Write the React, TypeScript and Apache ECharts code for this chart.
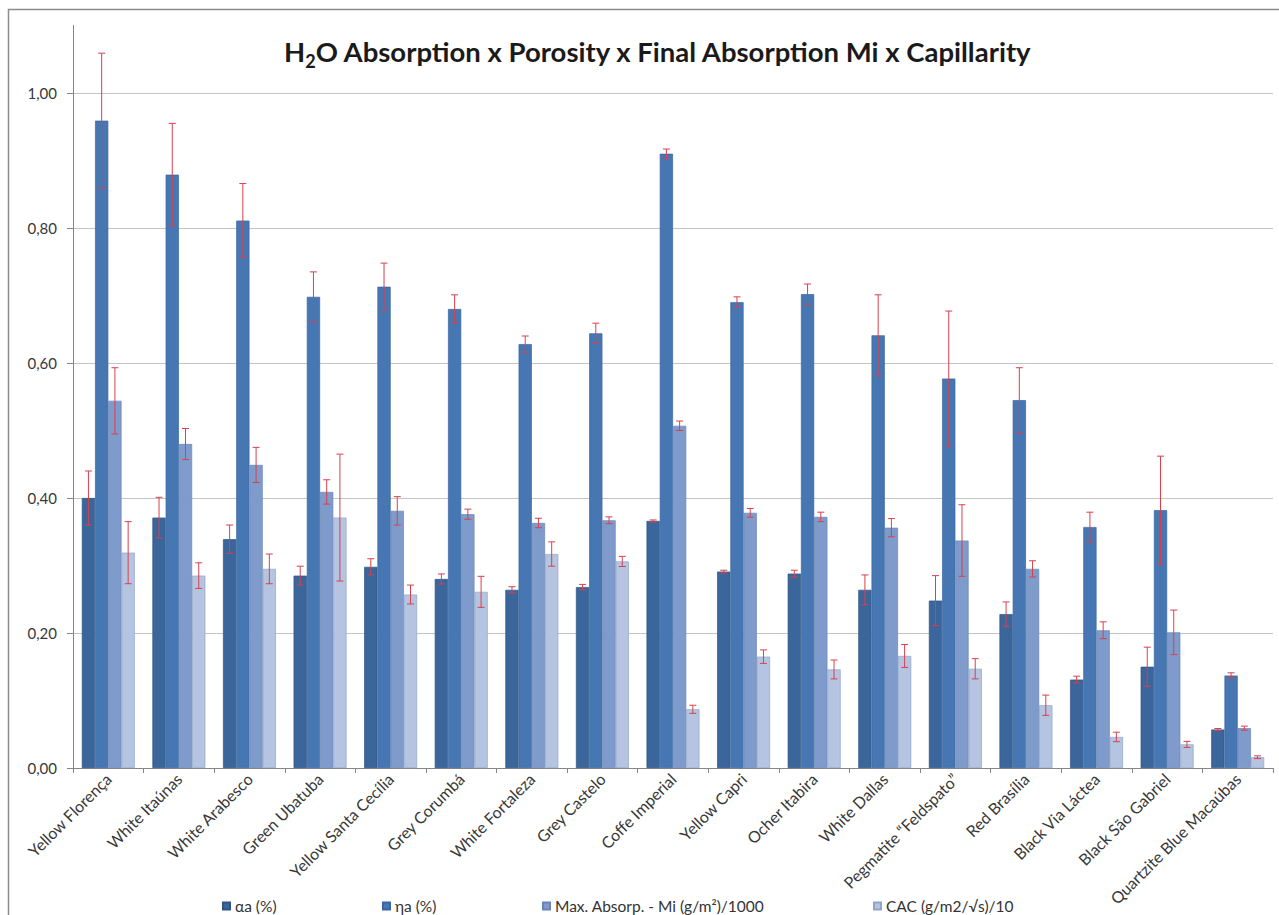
import React, { useEffect, useRef } from "react";
import * as echarts from "echarts";

const categories = [
  "Yellow Florença",
  "White Itaúnas",
  "White Arabesco",
  "Green Ubatuba",
  "Yellow Santa Cecília",
  "Grey Corumbá",
  "White Fortaleza",
  "Grey Castelo",
  "Coffe Imperial",
  "Yellow Capri",
  "Ocher Itabira",
  "White Dallas",
  "Pegmatite \u201cFeldspato\u201d",
  "Red Brasília",
  "Black Via Láctea",
  "Black São Gabriel",
  "Quartzite Blue Macaúbas",
];

const seriesNames = ["αa (%)", "ηa (%)", "Max. Absorp. - Mi (g/m²)/1000", "CAC (g/m2/√s)/10"];

const alphaA = [0.400, 0.371, 0.339, 0.285, 0.298, 0.280, 0.264, 0.268, 0.366, 0.291, 0.288, 0.264, 0.248, 0.228, 0.131, 0.150, 0.057];
const alphaAErr = [0.040, 0.030, 0.021, 0.014, 0.012, 0.0075, 0.0045, 0.004, 0.0015, 0.002, 0.005, 0.022, 0.037, 0.018, 0.005, 0.029, 0.0015];

const etaA = [0.959, 0.879, 0.811, 0.698, 0.713, 0.680, 0.628, 0.644, 0.910, 0.690, 0.702, 0.641, 0.577, 0.545, 0.357, 0.382, 0.137];
const etaAErr = [0.100, 0.076, 0.055, 0.037, 0.035, 0.021, 0.012, 0.015, 0.007, 0.008, 0.015, 0.060, 0.100, 0.048, 0.022, 0.080, 0.004];

const maxAbs = [0.544, 0.480, 0.449, 0.409, 0.381, 0.376, 0.363, 0.367, 0.507, 0.378, 0.372, 0.356, 0.337, 0.295, 0.204, 0.201, 0.059];
const maxAbsErr = [0.049, 0.023, 0.026, 0.018, 0.021, 0.0075, 0.007, 0.005, 0.007, 0.0065, 0.007, 0.0135, 0.053, 0.012, 0.0125, 0.033, 0.003];

const cac = [0.319, 0.285, 0.295, 0.371, 0.257, 0.261, 0.317, 0.306, 0.087, 0.165, 0.146, 0.166, 0.147, 0.093, 0.046, 0.035, 0.016];
const cacErr = [0.046, 0.019, 0.022, 0.094, 0.014, 0.023, 0.018, 0.0075, 0.006, 0.010, 0.014, 0.017, 0.015, 0.015, 0.007, 0.0045, 0.002];

const yMax = 1.1;
const yInterval = 0.2;

const colors = ["#3b669b", "#4677b3", "#7e9bcb", "#b5c5e1"];
const borders = ["#2f5584", "#3a679f", "#6886b6", "#8fa5c9"];
const legendLeft = [222, 382, 542, 873];
const FONT = "Lato, 'Open Sans', sans-serif";

export default function App() {
  const ref = useRef<HTMLDivElement>(null);

  useEffect(() => {
    document.body.style.margin = "0";
    const chart = echarts.init(ref.current as HTMLDivElement, null, { renderer: "svg" });
    const values = [alphaA, etaA, maxAbs, cac];
    const errs = [alphaAErr, etaAErr, maxAbsErr, cacErr];
    const nBars = values.length;
    const catGap = 0.25;

    const barSeries = values.map((v, k) => ({
      type: "bar",
      name: seriesNames[k],
      data: v,
      barGap: "0%",
      barCategoryGap: "25%",
      itemStyle: { color: colors[k], borderColor: borders[k], borderWidth: 0.7 },
      z: 2,
    }));

    const errSeries = values.map((v, k) => ({
      type: "custom",
      name: "err" + k,
      data: v.map((y, i) => [i, y, errs[k][i]]),
      encode: { x: 0, y: 1 },
      z: 5,
      silent: true,
      renderItem: (params: any, api: any) => {
        const i = api.value(0);
        const y = api.value(1);
        const e = api.value(2);
        const band = api.size([1, 0])[0];
        const used = band * (1 - catGap);
        const barW = used / nBars;
        const cx = api.coord([i, y])[0] - used / 2 + (k + 0.5) * barW;
        const yt = api.coord([i, y + e])[1];
        const yb = api.coord([i, y - e])[1];
        const style = { stroke: "#d8404d", lineWidth: 1 };
        const cap = 3.5;
        return {
          type: "group",
          children: [
            { type: "line", shape: { x1: cx, y1: yt, x2: cx, y2: yb }, style },
            { type: "line", shape: { x1: cx - cap, y1: yt, x2: cx + cap, y2: yt }, style },
            { type: "line", shape: { x1: cx - cap, y1: yb, x2: cx + cap, y2: yb }, style },
          ],
        };
      },
    }));

    chart.setOption({
      animation: false,
      backgroundColor: "#ffffff",
      title: {
        text: "{a|H}{s|2}{a|O Absorption x Porosity x Final Absorption Mi x Capillarity}",
        left: 279,
        top: 32,
        textStyle: {
          rich: {
            a: { fontSize: 27.5, fontWeight: "bold", fontFamily: FONT, color: "#1a1a1a", lineHeight: 32, verticalAlign: "top" },
            s: { fontSize: 18, fontWeight: "bold", fontFamily: FONT, color: "#1a1a1a", lineHeight: 33, verticalAlign: "bottom" },
          },
        },
      },
      graphic: [
        {
          type: "rect",
          silent: true,
          z: -1,
          shape: { x: 8.5, y: 9.5, width: 1280, height: 920 },
          style: { fill: "none", stroke: "#8c8c8c", lineWidth: 1.5 },
        },
      ],
      legend: seriesNames.map((n, k) => ({
        data: [n],
        left: legendLeft[k],
        top: 898,
        icon: "rect",
        itemWidth: 7,
        itemHeight: 7,
        padding: 0,
        selectedMode: false,
        textStyle: { fontSize: 15.5, color: "#333", fontFamily: FONT },
      })),
      grid: { left: 73, right: 6, top: 25.5, bottom: 147, containLabel: false },
      xAxis: {
        type: "category",
        data: categories,
        axisLine: { lineStyle: { color: "#868686" } },
        axisTick: { show: true, length: 5, alignWithLabel: false, lineStyle: { color: "#868686" } },
        axisLabel: { rotate: 45, interval: 0, fontSize: 16, color: "#383838", fontFamily: FONT, margin: 8 },
      },
      yAxis: {
        type: "value",
        min: 0,
        max: yMax,
        interval: yInterval,
        axisLine: { show: true, lineStyle: { color: "#868686" } },
        axisTick: { show: true, length: 6, lineStyle: { color: "#868686" } },
        axisLabel: {
          fontSize: 15,
          color: "#383838",
          fontFamily: FONT,
          margin: 16,
          showMaxLabel: false,
          formatter: (v: number) => v.toFixed(2).replace(".", ","),
        },
        splitLine: { show: true, showMaxLine: false, lineStyle: { color: "#c4c4c4", width: 1 } },
      },
      series: [...barSeries, ...errSeries],
    });

    return () => chart.dispose();
  }, []);

  return <div ref={ref} style={{ width: 1279, height: 915 }} />;
}
